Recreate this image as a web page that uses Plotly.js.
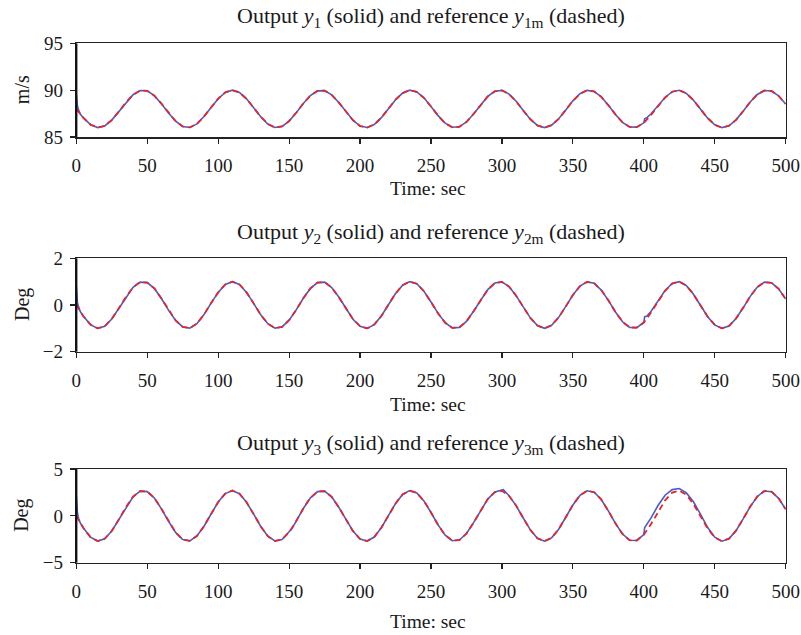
<!DOCTYPE html>
<html>
<head>
<meta charset="utf-8">
<script src="https://cdn.plot.ly/plotly-3.0.1.min.js"></script>
<style>
  html, body { margin: 0; padding: 0; background: #fff; }
  #chart { width: 801px; height: 635px; }
</style>
</head>
<body>
<div id="chart"></div>
<script>
// Time grid of the reference signals (sec)
const timeRef = [0,5,10,15,20,25,30,35,40,45,50,55,60,65,70,75,80,85,90,95,
  100,105,110,115,120,125,130,135,140,145,150,155,160,165,170,175,180,185,190,195,
  200,205,210,215,220,225,230,235,240,245,250,255,260,265,270,275,280,285,290,295,
  300,305,310,315,320,325,330,335,340,345,350,355,360,365,370,375,380,385,390,395,
  400,405,410,415,420,425,430,435,440,445,450,455,460,465,470,475,480,485,490,495,500];

// Reference y1m (m/s)
const y1Ref = [88.00,87.04,86.32,86.01,86.18,86.80,87.72,88.70,89.51,89.96,
  89.92,89.41,88.56,87.57,86.69,86.12,86.02,86.40,87.18,88.15,
  89.09,89.76,90.00,89.75,89.07,88.13,87.16,86.39,86.02,86.13,
  86.70,87.59,88.58,89.42,89.92,89.95,89.50,88.68,87.70,86.79,
  86.17,86.01,86.33,87.06,88.02,88.98,89.69,90.00,89.81,89.18,
  88.26,87.28,86.47,86.04,86.09,86.60,87.46,88.45,89.33,89.88,
  89.98,89.58,88.81,87.83,86.90,86.23,86.00,86.26,86.94,87.89,
  88.86,89.62,89.98,89.86,89.29,88.39,87.41,86.56,86.07,86.05,
  86.51,87.33,88.32,89.22,89.83,89.99,89.66,88.93,87.96,87.01,
  86.30,86.00,86.20,86.83,87.75,88.74,89.54,89.96,89.91,89.38,88.52];

// Reference y2m (Deg)
const y2Ref = [0.00,-0.48,-0.84,-1.00,-0.91,-0.60,-0.14,0.35,0.76,0.98,
  0.96,0.71,0.28,-0.22,-0.66,-0.94,-0.99,-0.80,-0.41,0.08,
  0.54,0.88,1.00,0.88,0.54,0.07,-0.42,-0.80,-0.99,-0.94,
  -0.65,-0.21,0.29,0.71,0.96,0.98,0.75,0.34,-0.15,-0.61,
  -0.91,-1.00,-0.84,-0.47,0.01,0.49,0.85,1.00,0.91,0.59,
  0.13,-0.36,-0.76,-0.98,-0.96,-0.70,-0.27,0.22,0.66,0.94,
  0.99,0.79,0.40,-0.08,-0.55,-0.88,-1.00,-0.87,-0.53,-0.06,
  0.43,0.81,0.99,0.93,0.64,0.20,-0.30,-0.72,-0.96,-0.97,
  -0.75,-0.33,0.16,0.61,0.92,1.00,0.83,0.46,-0.02,-0.50,
  -0.85,-1.00,-0.90,-0.58,-0.12,0.37,0.77,0.98,0.95,0.69,0.26];

// Reference y3m (Deg)
const y3Ref = [0.00,-1.29,-2.27,-2.69,-2.45,-1.61,-0.38,0.95,2.04,2.64,
  2.59,1.91,0.75,-0.58,-1.77,-2.53,-2.67,-2.15,-1.11,0.20,
  1.47,2.38,2.70,2.36,1.45,0.18,-1.13,-2.17,-2.68,-2.52,
  -1.76,-0.56,0.78,1.92,2.59,2.64,2.03,0.92,-0.41,-1.63,
  -2.47,-2.69,-2.26,-1.27,0.02,1.32,2.28,2.69,2.45,1.60,
  0.36,-0.97,-2.06,-2.65,-2.58,-1.89,-0.73,0.60,1.79,2.54,
  2.67,2.14,1.09,-0.23,-1.49,-2.39,-2.70,-2.35,-1.43,-0.15,
  1.16,2.18,2.68,2.52,1.74,0.53,-0.80,-1.94,-2.60,-2.63,
  -2.01,-0.90,0.43,1.65,2.48,2.69,2.25,1.25,-0.05,-1.34,
  -2.30,-2.70,-2.44,-1.58,-0.33,0.99,2.07,2.65,2.58,1.87,0.71];

// Output y1 (m/s): start-up transient and the disturbance at 400 s
const timeOut1 = [0,0.8,1.6,2.8,5,10,15,20,25,30,35,40,45,50,55,60,65,70,75,80,85,90,95,
  100,105,110,115,120,125,130,135,140,145,150,155,160,165,170,175,180,185,190,195,
  200,205,210,215,220,225,230,235,240,245,250,255,260,265,270,275,280,285,290,295,
  300,305,310,315,320,325,330,335,340,345,350,355,360,365,370,375,380,385,390,395,
  400,400.6,402,405,410,415,420,425,430,435,440,445,450,455,460,465,470,475,480,485,490,495,500];
const y1Out = [89.60,88.30,87.90,87.45,87.04,86.32,86.01,86.18,86.80,87.72,88.70,89.51,89.96,
  89.92,89.41,88.56,87.57,86.69,86.12,86.02,86.40,87.18,88.15,
  89.09,89.76,90.00,89.75,89.07,88.13,87.16,86.39,86.02,86.13,
  86.70,87.59,88.58,89.42,89.92,89.95,89.50,88.68,87.70,86.79,
  86.17,86.01,86.33,87.06,88.02,88.98,89.69,90.00,89.81,89.18,
  88.26,87.28,86.47,86.04,86.09,86.60,87.46,88.45,89.33,89.88,
  89.98,89.58,88.81,87.83,86.90,86.23,86.00,86.26,86.94,87.89,
  88.86,89.62,89.98,89.86,89.29,88.39,87.41,86.56,86.07,86.05,
  86.51,86.95,87.05,87.45,88.36,89.22,89.83,89.99,89.66,88.93,87.96,87.01,
  86.30,86.00,86.20,86.83,87.75,88.74,89.54,89.96,89.91,89.38,88.52];

// Output y2 (Deg)
const timeOut2 = timeOut1;
const y2Out = [0.80,0.10,-0.08,-0.28,-0.48,-0.84,-1.00,-0.91,-0.60,-0.14,0.35,0.76,0.98,
  0.96,0.71,0.28,-0.22,-0.66,-0.94,-0.99,-0.80,-0.41,0.08,
  0.54,0.88,1.00,0.88,0.54,0.07,-0.42,-0.80,-0.99,-0.94,
  -0.65,-0.21,0.29,0.71,0.96,0.98,0.75,0.34,-0.15,-0.61,
  -0.91,-1.00,-0.84,-0.47,0.01,0.49,0.85,1.00,0.91,0.59,
  0.13,-0.36,-0.76,-0.98,-0.96,-0.70,-0.27,0.22,0.66,0.94,
  0.99,0.79,0.40,-0.08,-0.55,-0.88,-1.00,-0.87,-0.53,-0.06,
  0.43,0.81,0.99,0.93,0.64,0.20,-0.30,-0.72,-0.96,-0.97,
  -0.75,-0.50,-0.48,-0.28,0.18,0.62,0.92,1.00,0.83,0.46,-0.02,-0.50,
  -0.85,-1.00,-0.90,-0.58,-0.12,0.37,0.77,0.98,0.95,0.69,0.26];

// Output y3 (Deg): extra samples around 150 s, 300 s and the 400 s disturbance
const timeOut3 = [0,0.8,1.6,2.8,5,10,15,20,25,30,35,40,45,50,55,60,65,70,75,80,85,90,95,
  100,105,110,115,120,125,130,135,140,145,150,152,155,160,165,170,175,180,185,190,195,
  200,205,210,215,220,225,230,235,240,245,250,255,260,265,270,275,280,285,290,295,
  300,301,305,310,315,320,325,330,335,340,345,350,355,360,365,370,375,380,385,390,395,
  400,400.6,405,410,415,420,425,430,435,440,445,450,455,460,465,470,475,480,485,490,495,500];
const y3Out = [2.20,0.30,-0.25,-0.75,-1.29,-2.27,-2.69,-2.45,-1.61,-0.38,0.95,2.04,2.64,
  2.59,1.91,0.75,-0.58,-1.77,-2.53,-2.67,-2.15,-1.11,0.20,
  1.47,2.38,2.70,2.36,1.45,0.18,-1.13,-2.17,-2.68,-2.52,
  -1.60,-1.35,-0.56,0.78,1.92,2.59,2.64,2.03,0.92,-0.41,-1.63,
  -2.47,-2.69,-2.26,-1.27,0.02,1.32,2.28,2.69,2.45,1.60,
  0.36,-0.97,-2.06,-2.65,-2.58,-1.89,-0.73,0.60,1.79,2.54,
  2.72,2.80,2.14,1.09,-0.23,-1.49,-2.39,-2.70,-2.35,-1.43,-0.15,
  1.16,2.18,2.68,2.52,1.74,0.53,-0.80,-1.94,-2.60,-2.63,
  -2.01,-1.25,-0.25,1.10,2.20,2.80,2.92,2.45,1.50,0.15,-1.25,
  -2.28,-2.70,-2.44,-1.58,-0.33,0.99,2.07,2.65,2.58,1.87,0.71];

// Axis ranges and tick labels
const xTicks = [0,50,100,150,200,250,300,350,400,450,500];
const yTicks1 = [85,90,95];
const yTicks2 = [-2,0,2];
const yTickText2 = ['\u22122','0','2'];
const yTicks3 = [-5,0,5];
const yTickText3 = ['\u22125','0','5'];
const yLabels = ['m/s','Deg','Deg'];
const panelIdx = ['1','2','3'];

const BLUE = '#4a5cc6';
const RED = '#e3262a';
const FONT = 'Liberation Serif, Times New Roman, serif';
const INK = '#1a1a1a';
const W = 801, H = 635;

// Plot area boxes in pixels: [left, right, top, bottom]
const boxes = [[76.3, 785.7, 43.3, 137], [76.3, 785.7, 258.3, 351.7], [76.3, 785.7, 469, 562.7]];

function outTrace(x, y, ax) {
  return {x: x, y: y, xaxis: 'x' + ax, yaxis: 'y' + ax, mode: 'lines',
    line: {color: BLUE, width: 1.6}, hoverinfo: 'skip', showlegend: false};
}
function refTrace(x, y, ax) {
  return {x: x, y: y, xaxis: 'x' + ax, yaxis: 'y' + ax, mode: 'lines',
    line: {color: RED, width: 1.8, dash: '6px,4px'}, hoverinfo: 'skip', showlegend: false};
}

const data = [
  outTrace(timeOut1, y1Out, ''), refTrace(timeRef, y1Ref, ''),
  outTrace(timeOut2, y2Out, '2'), refTrace(timeRef, y2Ref, '2'),
  outTrace(timeOut3, y3Out, '3'), refTrace(timeRef, y3Ref, '3')
];

const layout = {
  width: W, height: H,
  margin: {l: 0, r: 0, t: 0, b: 0},
  paper_bgcolor: '#fff', plot_bgcolor: '#fff',
  font: {family: FONT, size: 18, color: INK},
  showlegend: false,
  annotations: [],
  shapes: []
};

const yRanges = [[85,95],[-2,2],[-5,5]];
const yTickVals = [yTicks1, yTicks2, yTicks3];
const yTickTexts = [yTicks1.map(String), yTickText2, yTickText3];
const titlePos = [17, 233, 444];
const xTitlePos = [188, 404, 621];

boxes.forEach((b, i) => {
  const sfx = i === 0 ? '' : String(i + 1);
  const xd = [b[0] / W, b[1] / W];
  const yd = [1 - b[3] / H, 1 - b[2] / H];
  layout['xaxis' + sfx] = {
    domain: xd, range: [0, 500], anchor: 'y' + sfx,
    tickvals: xTicks, ticks: 'outside', ticklen: 5, tickwidth: 1.2, tickcolor: '#222',
    ticklabelstandoff: 6,
    showline: true, linecolor: '#222', linewidth: 1.5, mirror: true,
    showgrid: false, zeroline: false, fixedrange: true,
    tickfont: {family: FONT, size: 19, color: INK}
  };
  layout['yaxis' + sfx] = {
    domain: yd, range: yRanges[i], anchor: 'x' + sfx,
    tickvals: yTickVals[i], ticktext: yTickTexts[i],
    ticks: 'outside', ticklen: 5, tickwidth: 1.2, tickcolor: '#222',
    ticklabelstandoff: 3,
    showline: true, linecolor: '#222', linewidth: 1.5, mirror: true,
    showgrid: false, zeroline: false, fixedrange: true,
    tickfont: {family: FONT, size: 19, color: INK}
  };
  // heavier left spine
  layout.shapes.push({type: 'line', xref: 'paper', yref: 'paper',
    x0: xd[0], x1: xd[0], y0: yd[0], y1: yd[1], line: {color: '#111', width: 2.2}});
  const n = panelIdx[i];
  layout.annotations.push({
    xref: 'paper', yref: 'paper', x: (b[0] + b[1]) / 2 / W, y: 1 - titlePos[i] / H,
    xanchor: 'center', yanchor: 'middle', showarrow: false,
    text: 'Output <i>y</i><sub>' + n + '</sub> (solid) and reference <i>y</i><sub>' + n + 'm</sub> (dashed)',
    font: {family: FONT, size: 22, color: INK}
  });
  layout.annotations.push({
    xref: 'paper', yref: 'paper', x: 428 / W, y: 1 - xTitlePos[i] / H,
    xanchor: 'center', yanchor: 'middle', showarrow: false,
    text: 'Time: sec', font: {family: FONT, size: 19.5, color: INK}
  });
  layout.annotations.push({
    xref: 'paper', yref: 'paper', x: 22 / W, y: 1 - (b[2] + b[3]) / 2 / H,
    xanchor: 'center', yanchor: 'middle', showarrow: false, textangle: -90,
    text: yLabels[i], font: {family: FONT, size: 20, color: INK}
  });
});

Plotly.newPlot('chart', data, layout, {staticPlot: true, displayModeBar: false});
</script>
</body>
</html>
